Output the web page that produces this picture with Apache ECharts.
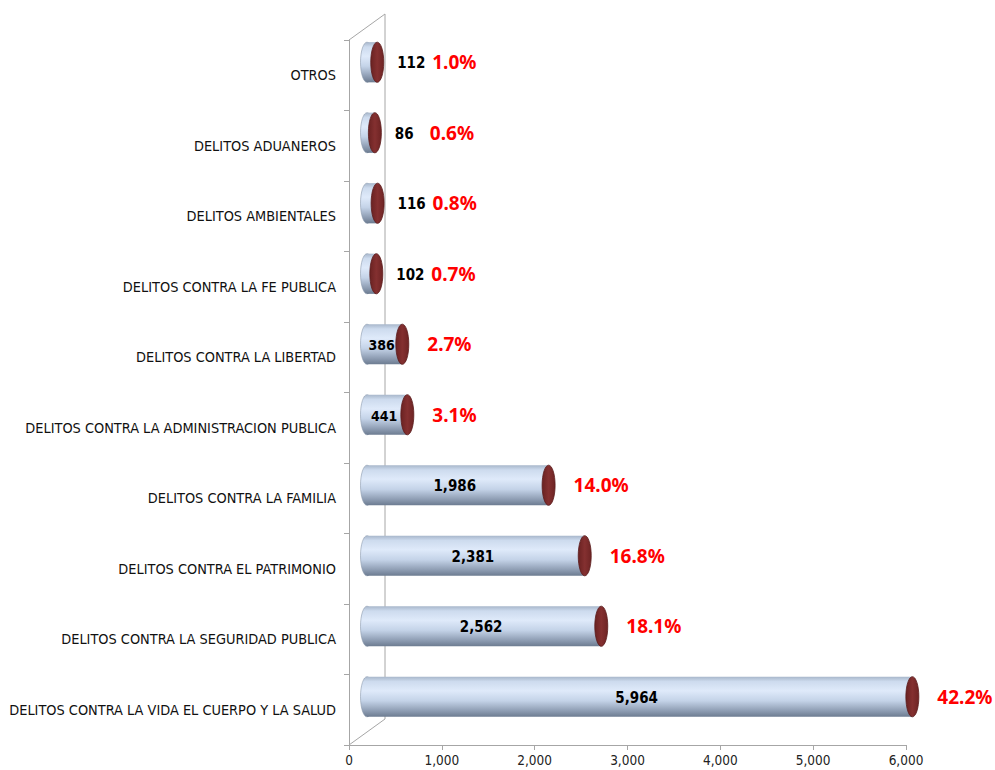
<!DOCTYPE html>
<html>
<head>
<meta charset="utf-8">
<script src="https://cdn.jsdelivr.net/npm/echarts@6/dist/echarts.min.js"></script>
<style>
  html, body { margin: 0; padding: 0; background: #fff; }
  #chart { width: 995px; height: 770px; }
</style>
</head>
<body>
<div id="chart"></div>
<script>
// categories, top to bottom as in the picture
const categories = [
  'OTROS',
  'DELITOS ADUANEROS',
  'DELITOS AMBIENTALES',
  'DELITOS CONTRA LA FE PUBLICA',
  'DELITOS CONTRA LA LIBERTAD',
  'DELITOS CONTRA LA ADMINISTRACION PUBLICA',
  'DELITOS CONTRA LA FAMILIA',
  'DELITOS CONTRA EL PATRIMONIO',
  'DELITOS CONTRA LA SEGURIDAD PUBLICA',
  'DELITOS CONTRA LA VIDA EL CUERPO Y LA SALUD'
];
const values = [112, 86, 116, 102, 386, 441, 1986, 2381, 2562, 5964];
const percents = ['1.0%', '0.6%', '0.8%', '0.7%', '2.7%', '3.1%', '14.0%', '16.8%', '18.1%', '42.2%'];

const DEPTH_X = 18, DEPTH_Y = -13;   // bars sit half way into the 3d box
const PERSP = 0.985;                  // bars are a bit shorter in the back plane
const WALL_X = 36, WALL_Y = -26;      // back wall offset
const narrow = '"Liberation Sans Narrow", "DejaVu Sans Condensed", sans-serif';

const chart = echarts.init(document.getElementById('chart'), null, { renderer: 'svg' });

const bodyFill = new echarts.graphic.LinearGradient(0, 0, 0, 1, [
  { offset: 0, color: '#a7b6ca' },
  { offset: 0.12, color: '#cddbee' },
  { offset: 0.35, color: '#dfeafa' },
  { offset: 0.6, color: '#c4d3e8' },
  { offset: 0.85, color: '#8e9db3' },
  { offset: 1, color: '#6c7b90' }
]);
const capFill = new echarts.graphic.LinearGradient(0, 0, 1, 0, [
  { offset: 0, color: '#6a2222' },
  { offset: 0.5, color: '#843030' },
  { offset: 1, color: '#6e2424' }
]);

function renderBar(params, api) {
  const v = api.value(0), i = api.value(1);
  const p0 = api.coord([0, i]);
  const p1 = api.coord([v, i]);
  const band = api.size([0, 1])[1];
  const h = band * 0.57;
  const rx = 6.5;
  const x0 = p0[0] + DEPTH_X, x1 = x0 + (p1[0] - p0[0]) * PERSP, cy = p0[1] + DEPTH_Y;
  const children = [
    { type: 'ellipse', shape: { cx: x0, cy: cy, rx: rx, ry: h / 2 }, style: { fill: bodyFill, stroke: '#8a98ac', lineWidth: 0.6 } },
    { type: 'rect', shape: { x: x0, y: cy - h / 2, width: x1 - x0, height: h }, style: { fill: bodyFill } },
    { type: 'ellipse', shape: { cx: x1, cy: cy, rx: rx, ry: h / 2 }, style: { fill: capFill, stroke: '#5a1c1c', lineWidth: 0.8 } }
  ];
  const inside = v > 300;
  const label = echarts.format.addCommas(v);
  children.push({
    type: 'text',
    style: {
      text: label, x: inside ? (x0 + x1) / 2 - 3 : x1 + 20, y: cy + 1,
      align: inside ? 'center' : 'left', verticalAlign: 'middle',
      fill: '#000', font: 'bold ' + (inside && v < 1000 ? 14 : 15) + 'px ' + narrow
    }
  });
  children.push({
    type: 'text',
    style: {
      text: percents[i], x: inside ? x1 + 25 : x1 + 55, y: cy,
      align: 'left', verticalAlign: 'middle',
      fill: '#ff0000', font: 'bold 19px "Noto Sans", "Open Sans", sans-serif'
    }
  });
  return { type: 'group', children: children };
}

function renderFrame(params, api) {
  const cs = params.coordSys;
  const xL = cs.x, yT = cs.y, yB = cs.y + cs.height;
  const st = { stroke: '#a6a6a6', lineWidth: 1 };
  return {
    type: 'group',
    silent: true,
    children: [
      { type: 'line', shape: { x1: xL, y1: yT, x2: xL + WALL_X, y2: yT + WALL_Y }, style: st },
      { type: 'line', shape: { x1: xL + WALL_X, y1: yT + WALL_Y, x2: xL + WALL_X, y2: yB + WALL_Y }, style: st },
      { type: 'line', shape: { x1: xL + WALL_X, y1: yB + WALL_Y, x2: xL, y2: yB }, style: st }
    ]
  };
}

const option = {
  backgroundColor: '#fff',
  animation: false,
  grid: { left: 349, right: 89, top: 40, bottom: 25, containLabel: false, outerBoundsMode: 'none' },
  xAxis: {
    type: 'value', min: 0, max: 6000, interval: 1000,
    axisLine: { show: true, lineStyle: { color: '#a6a6a6' } },
    axisTick: { show: true, length: 5, lineStyle: { color: '#a6a6a6' } },
    splitLine: { show: false },
    axisLabel: { color: '#222', fontSize: 13.5, fontFamily: narrow, margin: 8 }
  },
  yAxis: {
    type: 'category', data: categories, inverse: true,
    axisLine: { show: true, lineStyle: { color: '#a6a6a6' } },
    axisTick: { show: true, length: 5, lineStyle: { color: '#a6a6a6' } },
    axisLabel: { color: '#111', fontSize: 14.4, fontFamily: narrow, margin: 13 }
  },
  series: [
    {
      type: 'custom', name: 'frame', renderItem: renderFrame,
      data: [[0, 0]], encode: { x: 0, y: 1 }, silent: true, z: 1
    },
    {
      type: 'custom', name: 'Delitos', renderItem: renderBar,
      data: values.map((v, i) => [v, i]), encode: { x: 0, y: 1 }, z: 2
    }
  ]
};

chart.setOption(option);
</script>
</body>
</html>
